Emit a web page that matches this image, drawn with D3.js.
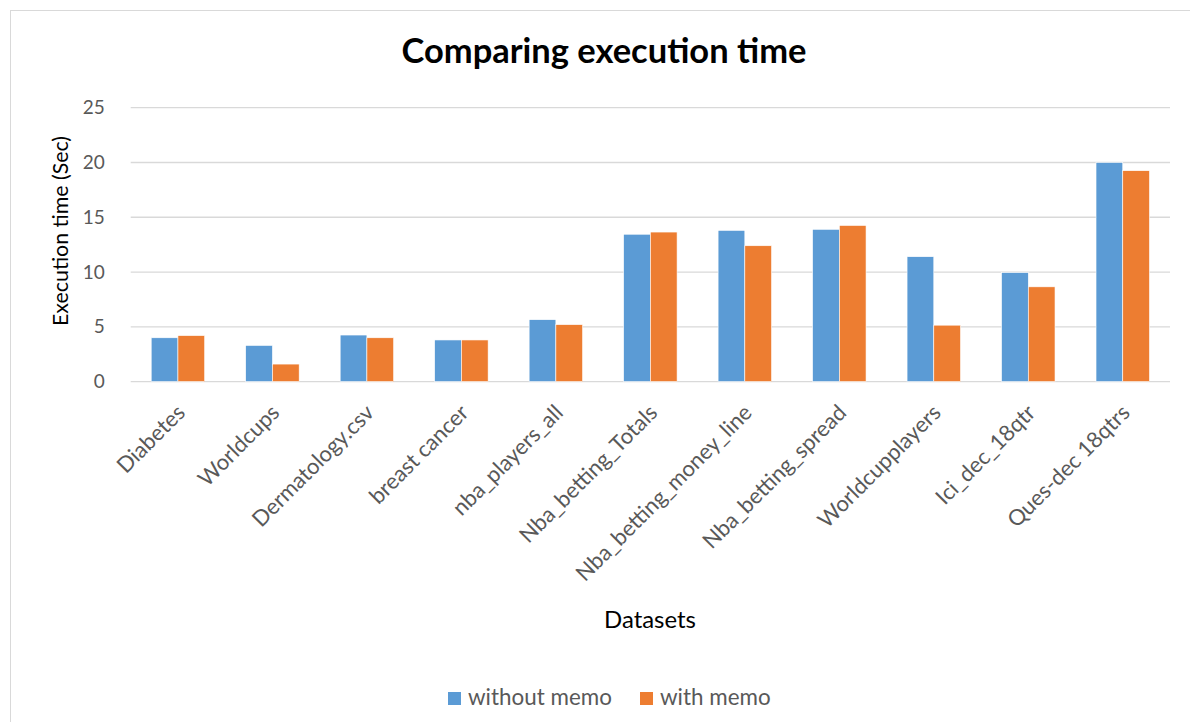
<!DOCTYPE html>
<html>
<head>
<meta charset="utf-8">
<script src="https://cdn.jsdelivr.net/npm/d3@7"></script>
<style>
  html, body { margin: 0; padding: 0; background: #fff; }
  svg { display: block; }
  text { font-family: Lato, "Open Sans", sans-serif; }
</style>
</head>
<body>
<svg id="chart" width="1190" height="722"></svg>
<script>
const categories = ["Diabetes", "Worldcups", "Dermatology.csv", "breast cancer", "nba_players_all",
  "Nba_betting_Totals", "Nba_betting_money_line", "Nba_betting_spread", "Worldcupplayers",
  "Ici_dec_18qtr", "Ques-dec 18qtrs"];
const withoutMemo = [4.0, 3.3, 4.25, 3.8, 5.65, 13.45, 13.8, 13.9, 11.4, 9.95, 20.0];
const withMemo = [4.2, 1.6, 4.0, 3.8, 5.2, 13.65, 12.4, 14.25, 5.15, 8.65, 19.25];
const seriesNames = ["without memo", "with memo"];
const seriesColors = ["#5b9bd5", "#ed7d31"];
const yTicks = [0, 5, 10, 15, 20, 25];

const svg = d3.select("#chart");
const W = 1190, H = 722;
const plot = { left: 130.7, right: 1170, top: 107.7, bottom: 381.6 };

// outer border
svg.append("rect").attr("x", 10.5).attr("y", 10.5).attr("width", W).attr("height", H)
  .attr("fill", "#fff").attr("stroke", "#d9d9d9").attr("stroke-width", 1);

const y = d3.scaleLinear().domain([0, 25]).range([plot.bottom, plot.top]);
const x0 = d3.scaleBand().domain(categories).range([plot.left, plot.right])
  .paddingInner(0.434).paddingOuter(0.217);
const x1 = d3.scaleBand().domain(seriesNames).range([0, x0.bandwidth()]).padding(0);

// gridlines
svg.append("g").selectAll("line").data(yTicks).join("line")
  .attr("x1", plot.left).attr("x2", plot.right)
  .attr("y1", d => y(d)).attr("y2", d => y(d))
  .attr("stroke", "#d9d9d9").attr("stroke-width", 1.3);

// y axis tick labels via d3 axis
const yAxis = svg.append("g").attr("transform", `translate(${plot.left},0)`)
  .call(d3.axisLeft(y).tickValues(yTicks).tickSize(0).tickPadding(26));
yAxis.select(".domain").remove();
yAxis.selectAll("text").attr("fill", "#595959").style("font-size", "19px")
  .style("font-family", "Lato, 'Open Sans', sans-serif");

// bars
const data = categories.map((c, i) => ({ cat: c, vals: [withoutMemo[i], withMemo[i]] }));
const groups = svg.append("g").selectAll("g").data(data).join("g")
  .attr("transform", d => `translate(${x0(d.cat)},0)`);
groups.selectAll("rect").data(d => d.vals.map((v, j) => ({ v, s: seriesNames[j], j })))
  .join("rect")
  .attr("x", d => x1(d.s))
  .attr("width", x1.bandwidth())
  .attr("y", d => y(d.v))
  .attr("height", d => y(0) - y(d.v))
  .attr("fill", d => seriesColors[d.j])
  .attr("stroke", "#fff").attr("stroke-width", 0.6);

// x axis labels
const xAxis = svg.append("g").attr("transform", `translate(0,${plot.bottom})`)
  .call(d3.axisBottom(x0).tickSize(0).tickPadding(0));
xAxis.select(".domain").remove();
xAxis.selectAll("text")
  .attr("fill", "#595959").style("font-size", "22px")
  .style("font-family", "Lato, 'Open Sans', sans-serif")
  .attr("text-anchor", "end")
  .attr("y", 0).attr("dy", "0.35em")
  .attr("transform", "translate(3,27) rotate(-45)");

function fit(sel, target) {
  const node = sel.node();
  const fs = parseFloat(sel.style("font-size"));
  const w = node.getComputedTextLength();
  if (w > 0) sel.style("font-size", (fs * target / w) + "px");
}

// title
const title = svg.append("text").attr("x", 604).attr("y", 63).attr("text-anchor", "middle")
  .attr("fill", "#000").style("font-size", "32px").style("font-weight", "bold")
  .text("Comparing execution time");
fit(title, 405);

// y axis title
const yTitle = svg.append("text").attr("transform", "translate(68,231) rotate(-90)")
  .attr("text-anchor", "middle").attr("fill", "#000").style("font-size", "22px")
  .text("Execution time (Sec)");
fit(yTitle, 190);

// x axis title
const xTitle = svg.append("text").attr("x", 650).attr("y", 628).attr("text-anchor", "middle")
  .attr("fill", "#000").style("font-size", "22px").text("Datasets");
fit(xTitle, 92);

// legend
const legendItems = [
  { name: seriesNames[0], color: seriesColors[0], sx: 448, tx: 468 },
  { name: seriesNames[1], color: seriesColors[1], sx: 640, tx: 660 }
];
const lg = svg.append("g");
legendItems.forEach(it => {
  lg.append("rect").attr("x", it.sx).attr("y", 692).attr("width", 13).attr("height", 13)
    .attr("fill", it.color);
  lg.append("text").attr("x", it.tx).attr("y", 705).attr("fill", "#595959")
    .style("font-size", "20px").text(it.name);
});
fit(lg.selectAll("text").filter((d, i) => i === 0), 144);
lg.selectAll("text").filter((d, i) => i === 1).style("font-size", lg.selectAll("text").filter((d, i) => i === 0).style("font-size"));
</script>
</body>
</html>
